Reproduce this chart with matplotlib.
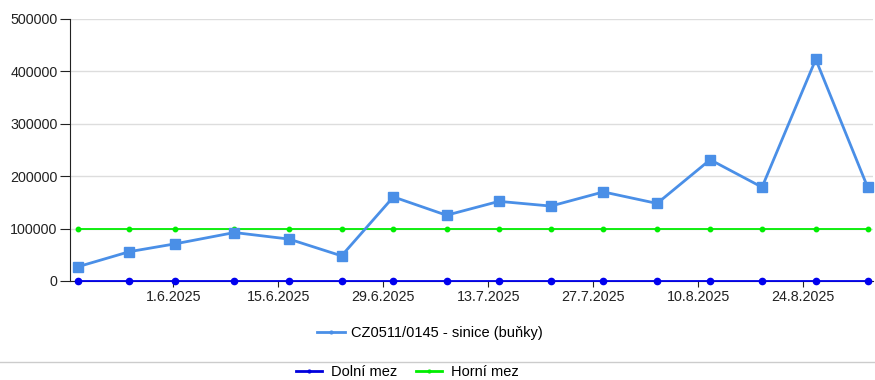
import matplotlib
matplotlib.use("Agg")
import matplotlib.pyplot as plt
from matplotlib.lines import Line2D
import datetime as dt

plt.rcParams['font.family'] = ['Liberation Sans', 'DejaVu Sans']

dates = ["2025-05-19 05:00", "2025-05-26 03:00", "2025-06-01 06:00", "2025-06-09 03:00",
         "2025-06-16 10:00", "2025-06-23 10:00", "2025-06-30 08:00", "2025-07-07 10:00",
         "2025-07-14 10:00", "2025-07-21 08:00", "2025-07-28 08:00", "2025-08-04 12:00",
         "2025-08-11 14:00", "2025-08-18 12:00", "2025-08-25 16:00", "2025-09-01 14:00"]
values = [27000, 56000, 71000, 92500, 80000, 48000, 160500, 125500, 152000,
          143000, 170000, 148000, 231500, 179000, 423000, 179000]
lower_limit = 0
upper_limit = 100000
series_label = "CZ0511/0145 - sinice (buňky)"
lower_label = "Dolní mez"
upper_label = "Horní mez"
tick_dates = ["2025-06-01", "2025-06-15", "2025-06-29", "2025-07-13",
              "2025-07-27", "2025-08-10", "2025-08-24"]
y_ticks = [0, 100000, 200000, 300000, 400000, 500000]

x = [dt.datetime.strptime(d, "%Y-%m-%d %H:%M") for d in dates]
xt = [dt.datetime.strptime(d, "%Y-%m-%d") for d in tick_dates]

fig = plt.figure(figsize=(8.75, 3.8), dpi=100)
ax = fig.add_axes([70/875, (380-281)/380, (873-70)/875, (281-19)/380])

ax.plot(x, [upper_limit]*len(x), color='#00ee00', lw=1.3, marker='o', ms=3.2, zorder=3)
ax.plot(x, [lower_limit]*len(x), color='#0000ee', lw=1.3, marker='o', ms=4.5, zorder=4, clip_on=False)
ax.plot(x, values, color='#4a8fe7', lw=2.0, marker='s', ms=7, zorder=5, clip_on=False)

x0 = dt.datetime(2025, 6, 1) - dt.timedelta(days=13.8)
x1 = dt.datetime(2025, 6, 1) + dt.timedelta(days=93.3)
ax.set_xlim(x0, x1)
ax.set_ylim(0, 500000)
ax.set_yticks(y_ticks)
ax.set_yticklabels([str(v) for v in y_ticks])
ax.set_xticks(xt)
ax.set_xticklabels([f"{d.day}.{d.month}.{d.year}" for d in xt])
ax.grid(axis='y', color='#dddddd', lw=1)
ax.set_axisbelow(True)
for s in ['top', 'right']:
    ax.spines[s].set_visible(False)
ax.spines['left'].set_color('#222222')
ax.spines['bottom'].set_color('#222222')
ax.tick_params(axis='both', labelsize=10.3, colors='#222222')
ax.tick_params(axis='y', length=7, pad=2)
ax.tick_params(axis='x', length=4, pad=2.5)

h1 = [Line2D([0], [0], color='#4a8fe7', lw=2, marker='o', ms=2)]
fig.legend(h1, [series_label], loc='center', bbox_to_anchor=(430/875, 1-333/380),
           frameon=False, fontsize=10.5, handlelength=1.9, handletextpad=0.45)
fig.add_artist(Line2D([0, 1], [1-361.5/380, 1-361.5/380], color='#cccccc', lw=1,
                      transform=fig.transFigure))
h2 = [Line2D([0], [0], color='#0000dd', lw=2, marker='o', ms=2),
      Line2D([0], [0], color='#00ee00', lw=2, marker='o', ms=2)]
fig.legend(h2, [lower_label, upper_label], loc='center', ncol=2,
           bbox_to_anchor=(407/875, 1-372/380), frameon=False, fontsize=10.5,
           handlelength=1.8, handletextpad=0.6, columnspacing=1.3,
           borderpad=0, borderaxespad=0)

fig.savefig("out.png", dpi=100)
